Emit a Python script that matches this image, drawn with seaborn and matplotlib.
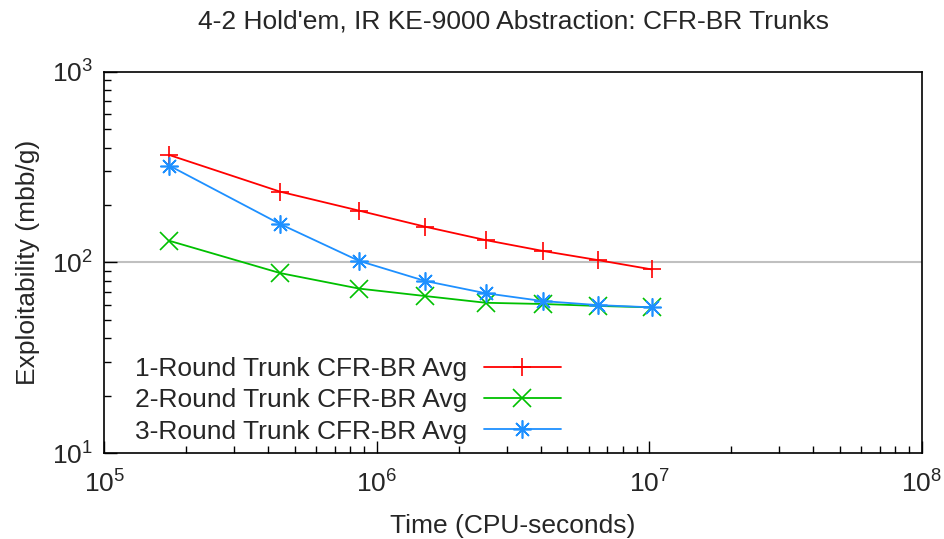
import numpy as np
import pandas as pd
import matplotlib
matplotlib.use("Agg")
import matplotlib.pyplot as plt
import seaborn as sns
from matplotlib.ticker import LogLocator, NullFormatter

# CPU-seconds at each checkpoint
time_s = [1.73e5, 4.42e5, 8.60e5, 1.505e6, 2.51e6, 4.06e6, 6.46e6, 1.02e7]

# exploitability (mbb/g)
round1 = [366, 235, 187, 154, 131, 115, 103, 92]
round2 = [130, 88, 73, 66.7, 61.5, 60.6, 59.2, 58.2]
round3 = [322, 159, 102, 80, 69, 62.8, 59.8, 58.2]

labels = ["1-Round Trunk CFR-BR Avg",
          "2-Round Trunk CFR-BR Avg",
          "3-Round Trunk CFR-BR Avg"]
colors = ["#ff0000", "#00c000", "#1e90ff"]
markers = ["+", "x", (8, 2, 0)]

sns.set_theme(style="white")
plt.rcParams['font.family'] = ['Liberation Sans', 'DejaVu Sans']
plt.rcParams['mathtext.fontset'] = 'custom'
plt.rcParams['mathtext.rm'] = 'Liberation Sans'

df = pd.DataFrame({
    'time': time_s * 3,
    'expl': round1 + round2 + round3,
    'series': [l for l in labels for _ in time_s],
})

fig = plt.figure(figsize=(9.44, 5.39), dpi=100)
ax = fig.add_axes([0.1105, 0.159, 0.866, 0.708])

for lab, col, mk in zip(labels, colors, markers):
    sub = df[df['series'] == lab]
    sns.lineplot(data=sub, x='time', y='expl', ax=ax, color=col,
                 marker=mk, markersize=13, markeredgewidth=1.2,
                 markeredgecolor=col, linewidth=1.3, label=lab)

ax.set_xscale('log')
ax.set_yscale('log')
ax.set_xlim(1e5, 1e8)
ax.set_ylim(10, 1000)

ax.xaxis.set_major_locator(LogLocator(base=10, numticks=10))
ax.xaxis.set_minor_locator(LogLocator(base=10, subs=np.arange(2, 10), numticks=20))
ax.yaxis.set_major_locator(LogLocator(base=10, numticks=10))
ax.yaxis.set_minor_locator(LogLocator(base=10, subs=np.arange(2, 10), numticks=20))
ax.xaxis.set_minor_formatter(NullFormatter())
ax.yaxis.set_minor_formatter(NullFormatter())

ax.tick_params(which='major', direction='in', length=9, width=1, labelsize=19,
               color='black')
ax.tick_params(axis='x', which='major', pad=12)
ax.tick_params(axis='y', which='major', pad=8)
ax.tick_params(which='minor', direction='in', length=5, width=1, color='black')
ax.tick_params(top=False, right=False, which='both')
ax.tick_params(axis='both', which='both', bottom=True, left=True)

for sp in ax.spines.values():
    sp.set_color('black')
    sp.set_linewidth(1.2)

ax.grid(False)
ax.axhline(100, color='#c0c0c0', linewidth=1.5, zorder=0)

ax.set_xlabel('Time (CPU-seconds)', fontsize=19, labelpad=12)
ax.set_ylabel('Exploitability (mbb/g)', fontsize=19, labelpad=9)
ax.set_title("4-2 Hold'em, IR KE-9000 Abstraction: CFR-BR Trunks",
             fontsize=19, pad=31)

ax.legend(loc='upper left', bbox_to_anchor=(0.021, 0.286), frameon=False,
          markerfirst=False, fontsize=19, handlelength=2.9,
          labelspacing=0.27, borderpad=0, handletextpad=0.65)

fig.savefig('out.png', dpi=100)
